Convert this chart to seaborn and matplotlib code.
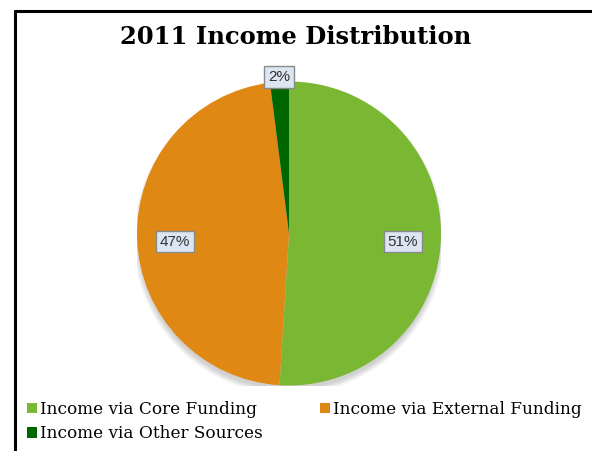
import numpy as np
import matplotlib
matplotlib.use("Agg")
import matplotlib.pyplot as plt
import seaborn as sns
from matplotlib.lines import Line2D
from matplotlib.patches import Patch, Circle

# ---- data ----
title = "2011 Income Distribution"
categories = ["Income via Core Funding", "Income via External Funding", "Income via Other Sources"]
values = [51, 47, 2]
colors = ["#7ab834", "#e08814", "#006600"]

sns.set_theme(style="white")
plt.rcParams['font.family'] = ['DejaVu Serif']
plt.rcParams['text.color'] = 'black'

W, H = 592, 451
fig = plt.figure(figsize=(W / 100, H / 100), dpi=100)
fig.patch.set_facecolor("white")

# frame lines (top and left)
lw = 2.2
fig.add_artist(Line2D([13.5 / W, 1.0], [1 - 10.5 / H, 1 - 10.5 / H], transform=fig.transFigure,
                      color="black", lw=lw, solid_capstyle="butt"))
fig.add_artist(Line2D([14.5 / W, 14.5 / W], [0, 1 - 9.5 / H], transform=fig.transFigure,
                      color="black", lw=lw, solid_capstyle="butt"))

fig.text(296 / W, 1 - 36.5 / H, title, ha="center", va="center", fontsize=17.5,
         fontweight="bold", family="DejaVu Serif", color="black")

cx, cy, r = 289, 233.5, 152
ax = fig.add_axes([(cx - r) / W, (H - cy - r) / H, 2 * r / W, 2 * r / H])

# soft shadow
for i in range(6):
    ax.add_patch(Circle((0, -0.035), 0.99 + 0.007 * i, color="black", alpha=0.03, lw=0, zorder=0))

wedges, _ = ax.pie(values, colors=colors, startangle=90, counterclock=False, radius=1.0,
                   wedgeprops=dict(lw=0))
for w in wedges:
    w.set_zorder(2)
ax.set_xlim(-1, 1)
ax.set_ylim(-1, 1)
ax.set_aspect("equal")
ax.axis("off")

total = sum(values)
for w, v in zip(wedges, values):
    th = np.deg2rad((w.theta1 + w.theta2) / 2)
    d = 0.75 if v / total > 0.05 else 1.03
    ax.text(d * np.cos(th), d * np.sin(th) - (0.03 if v / total > 0.05 else 0), f"{v}%",
            ha="center", va="center",
            fontsize=11, family="Liberation Sans", color="#333333", zorder=5,
            bbox=dict(boxstyle="square,pad=0.25", fc="#dce5f2", ec="#8a8a8a", lw=1))

handles = [Patch(fc=c, ec="none") for c in colors]
order = [0, 2, 1]
leg = fig.legend([handles[i] for i in order], [categories[i] for i in order],
                 ncol=2, loc="upper left", bbox_to_anchor=(27 / W, 1 - 401 / H),
                 frameon=False, fontsize=12.2, handlelength=0.6, handleheight=0.6,
                 handletextpad=0.15, columnspacing=3.4, labelspacing=0.42, borderpad=0,
                 borderaxespad=0)
for t in leg.get_texts():
    t.set_color("black")

fig.savefig("out.png", dpi=100, facecolor="white")
